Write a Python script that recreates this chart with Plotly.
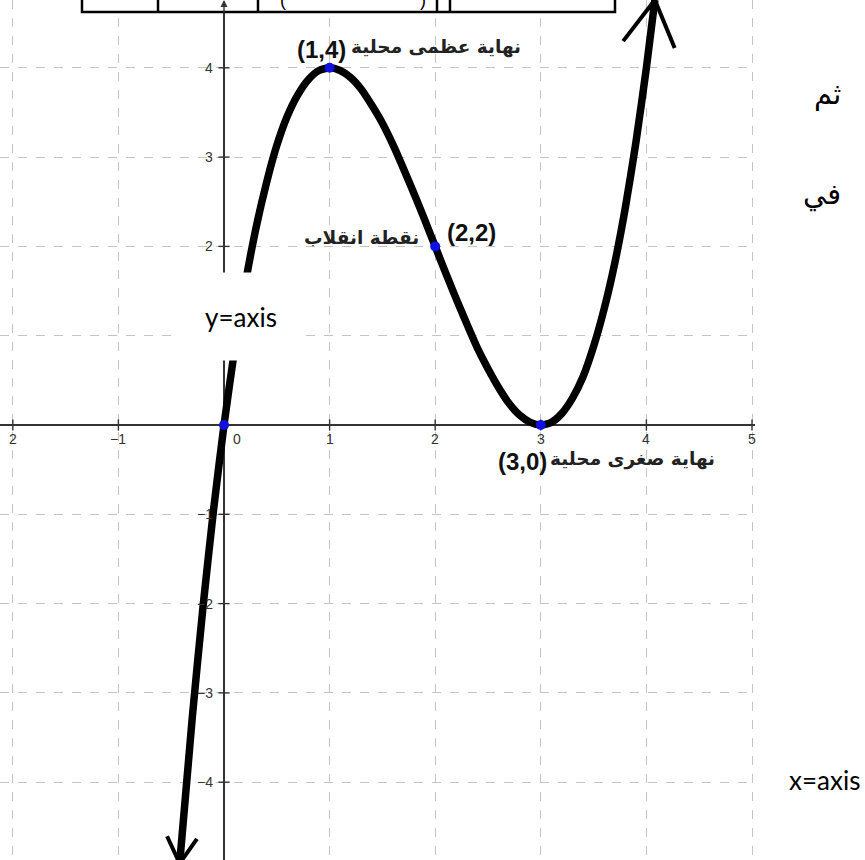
import math
import plotly.graph_objects as go

# ---- data ----
curve_x = [-0.42, -0.3, -0.2, -0.1, 0, 0.1, 0.2, 0.3, 0.4, 0.5, 0.6, 0.7, 0.8, 0.9,
           1.0, 1.1, 1.2, 1.3, 1.4, 1.5, 1.6, 1.7, 1.8, 1.9, 2.0, 2.1, 2.2, 2.3, 2.4,
           2.5, 2.6, 2.7, 2.8, 2.9, 3.0, 3.1, 3.2, 3.3, 3.4, 3.5, 3.6, 3.7, 3.8, 3.9,
           4.0, 4.08]
curve_y = [-4.91, -3.27, -2.05, -0.96, 0, 0.84, 1.57, 2.19, 2.70, 3.13, 3.46, 3.70,
           3.87, 3.97, 4.0, 3.97, 3.89, 3.76, 3.58, 3.38, 3.14, 2.87, 2.59, 2.30, 2.0,
           1.70, 1.41, 1.13, 0.86, 0.63, 0.42, 0.24, 0.11, 0.03, 0, 0.03, 0.13, 0.30,
           0.54, 0.88, 1.30, 1.81, 2.43, 3.16, 4.0, 4.76]

point_x = [0, 1, 2, 3]
point_y = [0, 4, 2, 0]

x_ticks = [-2, -1, 0, 1, 2, 3, 4, 5]
x_tick_labels = ["2", "−1", "0", "1", "2", "3", "4", "5"]
y_ticks = [-4, -3, -2, -1, 1, 2, 3, 4]
y_tick_labels = ["−4", "−3", "−2", "−1", "", "2", "3", "4"]  # "1" is hidden by the note box

label_points = [(1, 4), (2, 2), (3, 0)]
label_coords = ["(1,4)", "(2,2)", "(3,0)"]
label_names = ["نهاية عظمى محلية", "نقطة انقلاب", "نهاية صغرى محلية"]

side_texts = ["ثم", "في"]
y_axis_note = "y=axis"
x_axis_note = "x=axis"

# ---- layout geometry ----
W, H = 865, 860
PLOT_RIGHT = 755
X0PX, XS = 224, 105.6
Y0PX, YS = 425, 89.3
x_range = [(0 - X0PX) / XS, (PLOT_RIGHT - X0PX) / XS]
y_range = [-(H - Y0PX) / YS, Y0PX / YS]

def px2paper(px, py):
    return px / W, 1 - py / H

fig = go.Figure()

# curve
fig.add_trace(go.Scatter(x=curve_x, y=curve_y, mode="lines",
                         line=dict(color="black", width=7.5, shape="spline", smoothing=0.6),
                         hoverinfo="skip", showlegend=False))

# tick marks on the axes
fig.add_trace(go.Scatter(x=[t for t in x_ticks if t != 0], y=[0] * (len(x_ticks) - 1),
                         mode="markers",
                         marker=dict(symbol="line-ns", size=8, line=dict(color="#333", width=1.4)),
                         hoverinfo="skip", showlegend=False))
fig.add_trace(go.Scatter(x=[0] * len(y_ticks), y=y_ticks, mode="markers",
                         marker=dict(symbol="line-ew", size=8, line=dict(color="#333", width=1.4)),
                         hoverinfo="skip", showlegend=False))

# special points
fig.add_trace(go.Scatter(x=point_x, y=point_y, mode="markers",
                         marker=dict(color="#1010e0", size=10),
                         hoverinfo="skip", showlegend=False))

# open arrowheads at both ends of the curve
def arrow_arms(tip, prev, length, half_angle):
    tx, ty = X0PX + tip[0] * XS, Y0PX - tip[1] * YS
    qx, qy = X0PX + prev[0] * XS, Y0PX - prev[1] * YS
    dx, dy = qx - tx, qy - ty
    n = math.hypot(dx, dy)
    dx, dy = dx / n, dy / n
    arms = []
    for s in (-1, 1):
        a = s * math.radians(half_angle)
        rx = dx * math.cos(a) - dy * math.sin(a)
        ry = dx * math.sin(a) + dy * math.cos(a)
        ex, ey = tx + rx * length, ty + ry * length
        arms.append(((ex - X0PX) / XS, (Y0PX - ey) / YS))
    return arms

for tip, prev, length in [((curve_x[-1], curve_y[-1]), (curve_x[-3], curve_y[-3]), 52),
                          ((curve_x[0], curve_y[0]), (curve_x[2], curve_y[2]), 30)]:
    for ex, ey in arrow_arms(tip, prev, length, 30):
        fig.add_shape(type="line", x0=tip[0], y0=tip[1], x1=ex, y1=ey,
                      xref="x", yref="y", line=dict(color="black", width=4), layer="above")

annotations = []

# tick labels
for t, lab in zip(x_ticks, x_tick_labels):
    annotations.append(dict(x=t, y=0, xref="x", yref="y", text=lab, showarrow=False,
                            xanchor="center", yanchor="middle",
                            xshift=(13 if t == 0 else 0), yshift=-14,
                            font=dict(family="Liberation Sans, Arial", size=14, color="#333")))
for t, lab in zip(y_ticks, y_tick_labels):
    if not lab:
        continue
    annotations.append(dict(x=0, y=t, xref="x", yref="y", text=lab, showarrow=False,
                            xanchor="right", yanchor="middle", xshift=-9,
                            font=dict(family="Liberation Sans, Arial", size=14, color="#333")))

# y-axis arrow tip
annotations.append(dict(x=0, y=y_range[1], xref="x", yref="y", ax=0, ay=22, axref="pixel",
                        ayref="pixel", showarrow=True, arrowhead=2, arrowsize=1,
                        arrowwidth=1.4, arrowcolor="#333", text=""))

# point labels (offsets in pixels relative to each point)
coord_offsets = [(18, 18, "right"), (10, 14, "left"), (-45, -36, "left")]
name_offsets = [(19, 21, "left"), (-14, 9, "right"), (7, -34, "left")]
for (px_, py_), c, nm, co, no in zip(label_points, label_coords, label_names,
                                     coord_offsets, name_offsets):
    annotations.append(dict(x=px_, y=py_, xref="x", yref="y", text="<b>%s</b>" % c,
                            showarrow=False, xanchor=co[2], yanchor="middle",
                            xshift=co[0], yshift=co[1],
                            font=dict(family="Liberation Sans, Arial", size=24, color="#111")))
    annotations.append(dict(x=px_, y=py_, xref="x", yref="y", text="<b>%s</b>" % nm,
                            showarrow=False, xanchor=no[2], yanchor="middle",
                            xshift=no[0], yshift=no[1],
                            font=dict(family="DejaVu Sans", size=18.5, color="#222")))

# side texts on the right
for txt, py in zip(side_texts, [95, 195]):
    xp, yp = px2paper(843, py)
    annotations.append(dict(x=xp, y=yp, xref="paper", yref="paper", text=txt,
                            showarrow=False, xanchor="right", yanchor="middle",
                            font=dict(family="DejaVu Sans", size=29, color="black")))
xp, yp = px2paper(824, 780)
annotations.append(dict(x=xp, y=yp, xref="paper", yref="paper", text=x_axis_note,
                        showarrow=False, xanchor="center", yanchor="middle",
                        font=dict(family="Lato", size=26, color="black")))

# parentheses peeking from the cut table row at the top
for txt, px_ in [("(", 283), (")", 423)]:
    xp, yp = px2paper(px_, 0)
    annotations.append(dict(x=xp, y=yp, xref="paper", yref="paper", text=txt,
                            showarrow=False, xanchor="center", yanchor="middle",
                            font=dict(family="Liberation Sans", size=18, color="black")))

# white "y=axis" box (covers the curve)
xp, yp = px2paper(241, 316)
annotations.append(dict(x=xp, y=yp, xref="paper", yref="paper", text=y_axis_note,
                        showarrow=False, xanchor="center", yanchor="middle",
                        width=120, height=85, bgcolor="white",
                        font=dict(family="Lato", size=26, color="black")))

# table row at the very top (cut off)
x0p, y0p = px2paper(82, -6)
x1p, y1p = px2paper(615, 12)
fig.add_shape(type="rect", xref="paper", yref="paper", x0=x0p, y0=y0p, x1=x1p, y1=y1p,
              fillcolor="white", line=dict(color="black", width=2.5), layer="above")
for vx in [158, 258, 437, 450]:
    a, b = px2paper(vx, -6)
    c, d = px2paper(vx, 12)
    fig.add_shape(type="line", xref="paper", yref="paper", x0=a, y0=b, x1=c, y1=d,
                  line=dict(color="black", width=2.5), layer="above")

grid = dict(showgrid=True, gridcolor="#c4c4c4", griddash="dash", gridwidth=1,
            zeroline=True, zerolinecolor="#333", zerolinewidth=1.5,
            showticklabels=False, ticks="", showline=False, dtick=1, tick0=0)

fig.update_layout(
    width=W, height=H, margin=dict(l=0, r=0, t=0, b=0),
    paper_bgcolor="white", plot_bgcolor="white",
    xaxis=dict(range=x_range, domain=[0, PLOT_RIGHT / W], **grid),
    yaxis=dict(range=y_range, domain=[0, 1], **grid),
    annotations=annotations, showlegend=False,
)

fig.write_html("out.html", config={"displayModeBar": False},
               post_script="document.body.style.margin='0px';"
                           "document.body.style.overflow='hidden';")
